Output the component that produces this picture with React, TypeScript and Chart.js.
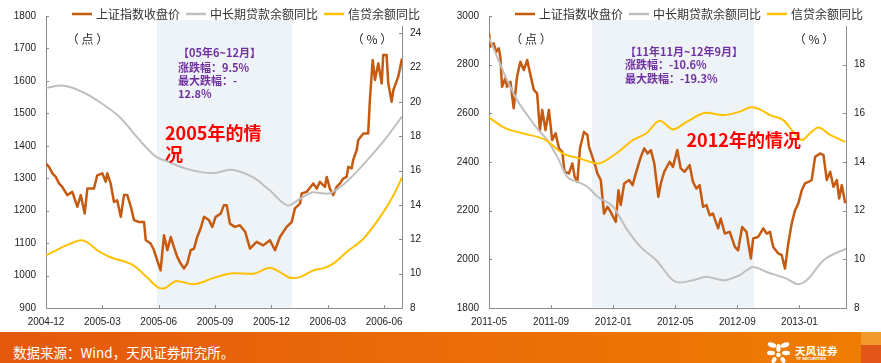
import React, { useEffect, useRef } from "react";
import { Chart, registerables } from "chart.js";

Chart.register(...registerables);

const FONT = '"Liberation Sans", "Noto Sans CJK SC", sans-serif';
const CJK = '"Noto Sans CJK SC", "Liberation Sans", sans-serif';
const AXIS = "#8C8C8C";
const TXT = "#222222";

const seriesNames = ["上证指数收盘价", "中长期贷款余额同比", "信贷余额同比"];
const seriesColors = ["#C55A11", "#BFBFBF", "#FFC000"];

// ---------- Left chart: 2004-12 .. 2006-06 (x = months since 2004-12) ----------
const leftTickValues = [0, 3, 6, 9, 12, 15, 18];
const leftTickLabels = ["2004-12", "2005-03", "2005-06", "2005-09", "2005-12", "2006-03", "2006-06"];
const leftIndexTicks = [900, 1000, 1100, 1200, 1300, 1400, 1500, 1600, 1700, 1800];
const leftPctTicks = [8, 10, 12, 14, 16, 18, 20, 22, 24];
const leftShade = [5.9, 13.1];

const leftIndex: [number, number][] = [
  [0, 1345], [0.16, 1335], [0.34, 1315], [0.52, 1304], [0.69, 1284], [0.87, 1273], [1.13, 1248],
  [1.4, 1258], [1.67, 1212], [1.85, 1248], [2.06, 1191], [2.2, 1268], [2.55, 1268], [2.73, 1309],
  [3.0, 1315], [3.18, 1289], [3.26, 1315], [3.44, 1284], [3.62, 1227], [3.79, 1232], [3.98, 1181],
  [4.15, 1248], [4.33, 1248], [4.54, 1207], [4.68, 1171], [4.95, 1165], [5.22, 1165], [5.31, 1109],
  [5.57, 1099], [5.75, 1078], [5.92, 1047], [6.1, 1016], [6.28, 1124], [6.46, 1078], [6.64, 1119],
  [6.81, 1088], [6.99, 1057], [7.17, 1037], [7.34, 1022], [7.52, 1037], [7.7, 1078], [7.88, 1083],
  [8.05, 1119], [8.23, 1145], [8.41, 1181], [8.67, 1171], [8.85, 1150], [9.03, 1181], [9.3, 1191],
  [9.47, 1217], [9.62, 1217], [9.79, 1160], [10.05, 1150], [10.32, 1155], [10.6, 1135], [10.86, 1083],
  [11.21, 1104], [11.56, 1093], [11.92, 1109], [12.19, 1078], [12.45, 1119], [12.81, 1150],
  [13.08, 1165], [13.25, 1207], [13.52, 1222], [13.61, 1253], [13.87, 1258], [14.23, 1284],
  [14.41, 1268], [14.58, 1289], [14.85, 1273], [14.94, 1304], [15.11, 1268], [15.29, 1248],
  [15.47, 1273], [15.65, 1284], [15.82, 1299], [16.0, 1304], [16.09, 1335], [16.27, 1330],
  [16.35, 1356], [16.54, 1387], [16.62, 1418], [16.89, 1438], [17.15, 1438], [17.24, 1541],
  [17.39, 1664], [17.51, 1603], [17.69, 1654], [17.87, 1592], [17.95, 1680], [18.13, 1680],
  [18.22, 1592], [18.4, 1536], [18.49, 1572], [18.75, 1613], [18.95, 1669],
];
const leftLongLoan: [number, number][] = [
  [0, 20.81], [0.83, 20.95], [1.98, 20.56], [2.87, 19.98], [3.93, 19.1], [5.0, 17.75], [5.89, 16.78],
  [6.42, 16.55], [7.49, 16.1], [8.9, 15.85], [9.8, 16.05], [11.03, 15.6], [11.92, 14.84],
  [12.9, 13.97], [13.52, 14.36], [14.23, 14.74], [14.94, 14.65], [15.65, 15.03], [16.35, 15.72],
  [17.24, 16.78], [18.13, 17.94], [18.95, 19.15],
];
const leftCredit: [number, number][] = [
  [0, 11.06], [1.09, 11.65], [1.9, 11.94], [2.87, 11.26], [3.4, 10.97], [4.65, 10.48], [5.36, 9.8],
  [5.98, 9.19], [6.24, 9.13], [6.96, 9.57], [7.84, 9.38], [8.9, 9.74], [9.97, 10.03], [11.03, 10.0],
  [11.92, 10.35], [12.45, 10.09], [13.08, 9.74], [13.52, 9.8], [14.23, 10.19], [14.85, 10.35],
  [15.29, 10.58], [16.0, 11.26], [16.89, 12.03], [17.78, 13.29], [18.49, 14.55], [18.95, 15.6],
];

// ---------- Right chart: 2011-05 .. 2013-03 (x = months since 2011-05) ----------
const rightTickValues = [0, 4, 8, 12, 16, 20];
const rightTickLabels = ["2011-05", "2011-09", "2012-01", "2012-05", "2012-09", "2013-01"];
const rightIndexTicks = [1800, 2000, 2200, 2400, 2600, 2800, 3000];
const rightPctTicks = [8, 10, 12, 14, 16, 18];
const rightShade = [6.64, 17.08];

const rightIndex: [number, number][] = [
  [0, 2929], [0.09, 2874], [0.3, 2888], [0.47, 2853], [0.63, 2867], [0.73, 2833], [0.84, 2709],
  [1.05, 2744], [1.16, 2709], [1.38, 2730], [1.59, 2621], [1.81, 2751], [2.02, 2812], [2.24, 2778],
  [2.46, 2819], [2.67, 2758], [2.89, 2696], [3.1, 2682], [3.28, 2531], [3.43, 2614], [3.64, 2531],
  [3.86, 2614], [4.07, 2490], [4.29, 2518], [4.51, 2456], [4.72, 2442], [4.87, 2360], [5.15, 2353],
  [5.37, 2394], [5.52, 2339], [5.69, 2318], [5.86, 2456], [6.12, 2524], [6.34, 2511], [6.44, 2463],
  [6.66, 2421], [6.87, 2380], [6.98, 2353], [7.2, 2326], [7.41, 2188], [7.63, 2216], [7.84, 2195],
  [8.17, 2154], [8.34, 2284], [8.49, 2223], [8.71, 2312], [9.03, 2326], [9.25, 2305], [9.46, 2353],
  [9.78, 2421], [10.0, 2456], [10.22, 2435], [10.43, 2449], [10.65, 2394], [10.91, 2257],
  [11.07, 2312], [11.29, 2360], [11.64, 2401], [11.85, 2380], [12.13, 2449], [12.35, 2374],
  [12.6, 2360], [12.93, 2387], [13.14, 2318], [13.36, 2291], [13.57, 2305], [13.79, 2216],
  [14.01, 2223], [14.22, 2181], [14.43, 2188], [14.76, 2127], [14.93, 2168], [15.19, 2106],
  [15.51, 2113], [15.84, 2051], [16.05, 2037], [16.31, 2133], [16.59, 2113], [16.87, 2003],
  [17.02, 2086], [17.34, 2092], [17.67, 2127], [17.89, 2106], [18.1, 2113], [18.31, 2051],
  [18.64, 2024], [18.86, 2017], [19.07, 1962], [19.28, 2065], [19.5, 2147], [19.72, 2202],
  [19.93, 2230], [20.15, 2284], [20.36, 2312], [20.58, 2318], [20.79, 2326], [21.01, 2421],
  [21.33, 2435], [21.55, 2428], [21.76, 2326], [21.98, 2360], [22.19, 2298], [22.41, 2326],
  [22.56, 2250], [22.73, 2305], [22.95, 2230],
];
const rightLongLoan: [number, number][] = [
  [0, 19.1], [0.52, 18.33], [1.16, 17.37], [1.81, 16.55], [2.46, 15.93], [3.1, 15.38], [3.75, 14.9],
  [4.4, 14.21], [5.04, 13.39], [5.69, 13.19], [6.34, 12.98], [7.0, 12.57], [8.0, 12.16],
  [8.92, 11.2], [9.78, 10.5], [10.78, 9.96], [11.85, 9.14], [12.28, 9.05], [13.14, 9.14],
  [14.01, 9.28], [15.08, 9.14], [16.16, 9.35], [17.02, 9.69], [17.89, 9.48], [19.16, 9.21],
  [19.93, 8.98], [20.47, 9.14], [21.55, 9.96], [23, 10.44],
];
const rightCredit: [number, number][] = [
  [0, 15.83], [1.08, 15.38], [2.15, 15.18], [3.66, 14.9], [4.74, 14.35], [5.82, 14.15], [7.01, 13.94],
  [8.19, 14.35], [9.27, 14.9], [10.14, 15.18], [11.0, 15.7], [11.86, 15.34], [12.73, 15.65],
  [14.01, 16.02], [15.08, 15.93], [16.16, 16.07], [16.92, 16.25], [17.45, 16.16], [18.1, 15.93],
  [18.96, 15.72], [19.61, 15.24], [20.15, 14.9], [20.68, 15.18], [21.22, 15.42], [21.98, 15.11],
  [22.95, 14.83],
];

type Note = { text: string; x: number; y: number; font: string; color: string; align?: CanvasTextAlign };

const leftNotes: Note[] = [
  { text: "（ 点 ）", x: 87.5, y: 39, font: `12px ${CJK}`, color: "#262626", align: "center" },
  { text: "（ % ）", x: 372, y: 39, font: `12px ${CJK}`, color: "#262626", align: "center" },
  { text: "【05年6~12月】", x: 178, y: 53, font: `bold 11px ${CJK}`, color: "#7030A0" },
  { text: "涨跌幅：9.5%", x: 178, y: 67.5, font: `bold 11px ${CJK}`, color: "#7030A0" },
  { text: "最大跌幅：-", x: 178, y: 80.5, font: `bold 11px ${CJK}`, color: "#7030A0" },
  { text: "12.8%", x: 178, y: 93.5, font: `bold 11px ${CJK}`, color: "#7030A0" },
  { text: "2005年的情", x: 165, y: 133, font: `bold 18px ${CJK}`, color: "#FF0000" },
  { text: "况", x: 165, y: 154, font: `bold 18px ${CJK}`, color: "#FF0000" },
];
const rightNotes: Note[] = [
  { text: "（ 点 ）", x: 91, y: 39, font: `12px ${CJK}`, color: "#262626", align: "center" },
  { text: "（ % ）", x: 374, y: 39, font: `12px ${CJK}`, color: "#262626", align: "center" },
  { text: "【11年11月~12年9月】", x: 185, y: 52, font: `bold 11px ${CJK}`, color: "#7030A0" },
  { text: "涨跌幅：-10.6%", x: 185, y: 65, font: `bold 11px ${CJK}`, color: "#7030A0" },
  { text: "最大跌幅：-19.3%", x: 185, y: 78.5, font: `bold 11px ${CJK}`, color: "#7030A0" },
  { text: "2012年的情况", x: 246.5, y: 140, font: `bold 18px ${CJK}`, color: "#FF0000" },
];

type ChartSpec = {
  xMax: number;
  xTicks: number[];
  xLabels: string[];
  yTicks: number[];
  yMin: number;
  yMax: number;
  y1Ticks: number[];
  y1Min: number;
  y1Max: number;
  leftW: number;
  rightW: number;
  shade: number[];
  notes: Note[];
  index: [number, number][];
  loan: [number, number][];
  credit: [number, number][];
};

function makeOverlay(spec: ChartSpec) {
  return {
    id: "overlay",
    beforeDatasetsDraw(chart: any) {
      const { ctx, chartArea, scales } = chart;
      const x0 = scales.x.getPixelForValue(spec.shade[0]);
      const x1 = scales.x.getPixelForValue(spec.shade[1]);
      ctx.save();
      ctx.fillStyle = "#EEF3F8";
      ctx.fillRect(x0, chartArea.top + 4, x1 - x0, chartArea.bottom - chartArea.top - 4.5);
      ctx.restore();
    },
    afterDraw(chart: any) {
      const { ctx, chartArea, scales } = chart;
      const { left, right, top, bottom } = chartArea;
      ctx.save();
      ctx.strokeStyle = AXIS;
      ctx.lineWidth = 1;
      ctx.beginPath();
      const rx = Math.round(right) + 0.5;
      ctx.moveTo(rx, top + 10);
      ctx.lineTo(rx, bottom);
      scales.y.ticks.forEach((t: any) => {
        const p = Math.round(scales.y.getPixelForValue(t.value)) + 0.5;
        ctx.moveTo(left, p);
        ctx.lineTo(left + 3, p);
      });
      scales.y1.ticks.forEach((t: any) => {
        const p = Math.round(scales.y1.getPixelForValue(t.value)) + 0.5;
        ctx.moveTo(right, p);
        ctx.lineTo(right - 3, p);
      });
      scales.x.ticks.forEach((t: any) => {
        const p = Math.round(scales.x.getPixelForValue(t.value)) + 0.5;
        ctx.moveTo(p, bottom);
        ctx.lineTo(p, bottom - 3);
      });
      ctx.stroke();

      ctx.textBaseline = "middle";
      spec.notes.forEach((n) => {
        ctx.font = n.font;
        ctx.fillStyle = n.color;
        ctx.textAlign = n.align || "left";
        ctx.fillText(n.text, n.x, n.y);
      });

      ctx.font = `12px ${CJK}`;
      ctx.textAlign = "left";
      let lx = left + 26;
      const ly = 14;
      chart.data.datasets.forEach((ds: any) => {
        ctx.strokeStyle = ds.borderColor;
        ctx.lineWidth = 2.5;
        ctx.beginPath();
        ctx.moveTo(lx, ly);
        ctx.lineTo(lx + 20, ly);
        ctx.stroke();
        lx += 24;
        ctx.fillStyle = "#333333";
        ctx.fillText(ds.label, lx, ly);
        lx += ctx.measureText(ds.label).width + 6;
      });
      ctx.restore();
    },
  };
}

function buildConfig(spec: ChartSpec): any {
  const tickFont = { size: 10, family: FONT };
  const toPts = (arr: [number, number][]) => arr.map(([x, y]) => ({ x, y }));
  return {
    type: "line",
    data: {
      datasets: [
        {
          label: seriesNames[0],
          data: toPts(spec.index),
          borderColor: seriesColors[0],
          borderWidth: 2.5,
          pointRadius: 0,
          tension: 0,
          yAxisID: "y",
          order: 2,
          borderJoinStyle: "round",
        },
        {
          label: seriesNames[1],
          data: toPts(spec.loan),
          borderColor: seriesColors[1],
          borderWidth: 2,
          pointRadius: 0,
          cubicInterpolationMode: "monotone",
          yAxisID: "y1",
          order: 1,
        },
        {
          label: seriesNames[2],
          data: toPts(spec.credit),
          borderColor: seriesColors[2],
          borderWidth: 2,
          pointRadius: 0,
          cubicInterpolationMode: "monotone",
          yAxisID: "y1",
          order: 0,
        },
      ],
    },
    options: {
      responsive: false,
      animation: false,
      devicePixelRatio: 1,
      layout: { padding: { top: 16, left: 0, right: 0, bottom: 0 } },
      plugins: { legend: { display: false }, tooltip: { enabled: false } },
      scales: {
        x: {
          type: "linear",
          min: 0,
          max: spec.xMax,
          afterBuildTicks: (s: any) => {
            s.ticks = spec.xTicks.map((v) => ({ value: v }));
          },
          afterFit: (s: any) => {
            s.height = 24;
          },
          grid: { display: false, drawTicks: false },
          border: { display: true, color: AXIS, width: 1 },
          ticks: {
            autoSkip: false,
            maxRotation: 0,
            padding: 8,
            color: TXT,
            font: tickFont,
            callback: (v: number) => spec.xLabels[spec.xTicks.indexOf(v)] ?? "",
          },
        },
        y: {
          type: "linear",
          position: "left",
          min: spec.yMin,
          max: spec.yMax,
          afterBuildTicks: (s: any) => {
            s.ticks = spec.yTicks.map((v) => ({ value: v }));
          },
          afterFit: (s: any) => {
            s.width = spec.leftW;
          },
          grid: { display: false, drawTicks: false },
          border: { display: true, color: AXIS, width: 1 },
          ticks: { padding: 10, color: TXT, font: tickFont, callback: (v: number) => String(v) },
        },
        y1: {
          type: "linear",
          position: "right",
          min: spec.y1Min,
          max: spec.y1Max,
          afterBuildTicks: (s: any) => {
            s.ticks = spec.y1Ticks.map((v) => ({ value: v }));
          },
          afterFit: (s: any) => {
            s.width = spec.rightW;
          },
          grid: { display: false, drawTicks: false },
          border: { display: false },
          ticks: { padding: 8, color: TXT, font: tickFont, callback: (v: number) => String(v) },
        },
      },
    },
    plugins: [makeOverlay(spec)],
  };
}

const leftSpec: ChartSpec = {
  xMax: 18.95,
  xTicks: leftTickValues,
  xLabels: leftTickLabels,
  yTicks: leftIndexTicks,
  yMin: 900,
  yMax: 1800,
  y1Ticks: leftPctTicks,
  y1Min: 8,
  y1Max: 25,
  leftW: 46,
  rightW: 38,
  shade: leftShade,
  notes: leftNotes,
  index: leftIndex,
  loan: leftLongLoan,
  credit: leftCredit,
};

const rightSpec: ChartSpec = {
  xMax: 23,
  xTicks: rightTickValues,
  xLabels: rightTickLabels,
  yTicks: rightIndexTicks,
  yMin: 1800,
  yMax: 3000,
  y1Ticks: rightPctTicks,
  y1Min: 8,
  y1Max: 20,
  leftW: 49,
  rightW: 35,
  shade: rightShade,
  notes: rightNotes,
  index: rightIndex,
  loan: rightLongLoan,
  credit: rightCredit,
};

function ChartPanel({ spec, width, height, left }: { spec: ChartSpec; width: number; height: number; left: number }) {
  const ref = useRef<HTMLCanvasElement | null>(null);
  useEffect(() => {
    if (!ref.current) return;
    const chart = new Chart(ref.current, buildConfig(spec));
    return () => chart.destroy();
  }, [spec]);
  return (
    <canvas
      ref={ref}
      width={width}
      height={height}
      style={{ position: "absolute", left, top: 0, width, height, display: "block" }}
    />
  );
}

function Logo() {
  return (
    <div style={{ position: "absolute", left: 766, top: 8, width: 80, height: 23 }}>
      <svg width="26" height="22" viewBox="0 0 26 22" style={{ position: "absolute", left: 0, top: 1 }}>
        <ellipse cx="6" cy="4" rx="4.5" ry="2.3" fill="#fff" transform="rotate(20 6 4)" />
        <ellipse cx="19" cy="4" rx="4.5" ry="2.3" fill="#fff" transform="rotate(-20 19 4)" />
        <ellipse cx="5" cy="12" rx="4" ry="2.2" fill="#fff" />
        <ellipse cx="20" cy="12" rx="4" ry="2.2" fill="#fff" />
        <ellipse cx="12.5" cy="7" rx="2.2" ry="4" fill="#fff" />
        <ellipse cx="8" cy="19" rx="2.2" ry="3.2" fill="#fff" transform="rotate(30 8 19)" />
        <ellipse cx="17" cy="19" rx="2.2" ry="3.2" fill="#fff" transform="rotate(-30 17 19)" />
        <circle cx="12.5" cy="14" r="2.3" fill="#fff" />
      </svg>
      <div
        style={{
          position: "absolute",
          left: 29,
          top: 5,
          color: "#fff",
          font: `bold 10.5px ${CJK}`,
          lineHeight: "11px",
          whiteSpace: "nowrap",
          letterSpacing: "0.2px",
        }}
      >
        天风证券
      </div>
      <div
        style={{
          position: "absolute",
          left: 30,
          top: 17,
          color: "#fff",
          font: `bold 4px ${FONT}`,
          lineHeight: "4px",
          whiteSpace: "nowrap",
        }}
      >
        TF SECURITIES
      </div>
    </div>
  );
}

export default function App() {
  return (
    <div
      style={{
        position: "absolute",
        left: 0,
        top: 0,
        width: 881,
        height: 363,
        background: "#fff",
        overflow: "hidden",
      }}
    >
      <ChartPanel spec={leftSpec} width={440} height={332} left={0} />
      <ChartPanel spec={rightSpec} width={441} height={332} left={440} />
      <div
        style={{
          position: "absolute",
          left: 0,
          top: 332,
          width: 881,
          height: 31,
          background: "linear-gradient(90deg, #E4590D 0%, #EA6A09 45%, #EF7D02 100%)",
          overflow: "hidden",
        }}
      >
        <div
          style={{
            position: "absolute",
            left: 13,
            top: 13,
            color: "#fff",
            font: `13.5px ${CJK}`,
            lineHeight: "14px",
            whiteSpace: "nowrap",
          }}
        >
          数据来源：Wind，天风证券研究所。
        </div>
        <Logo />
        <div style={{ position: "absolute", left: 861, top: 0, width: 20, height: 13, background: "#F39A2E" }} />
        <div style={{ position: "absolute", left: 861, top: 13, width: 20, height: 18, background: "#E2561A" }} />
      </div>
    </div>
  );
}
